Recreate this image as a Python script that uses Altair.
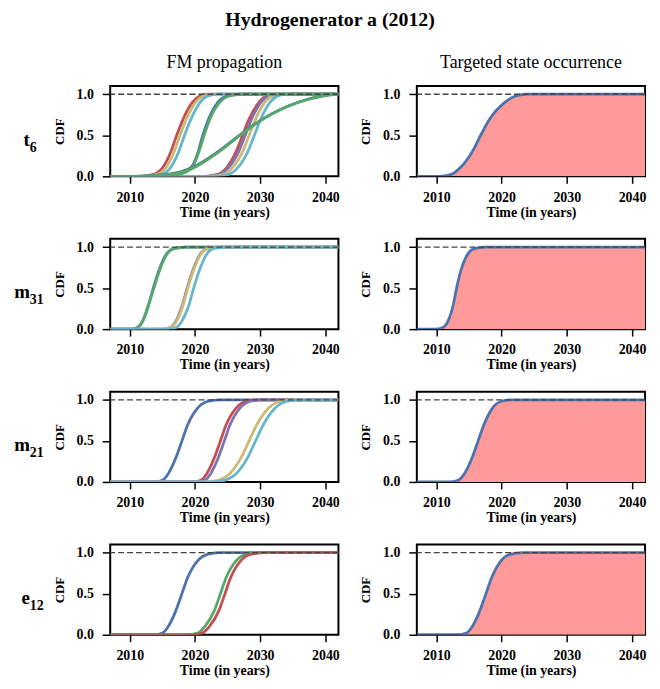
import altair as alt
import pandas as pd

SERIF = "Liberation Serif"

LEVELS = [0.0, 0.02, 0.1, 0.3, 0.5, 0.7, 0.9, 0.98, 1.0]
X_START, X_END = 2007, 2042
X_TICKS = [2010, 2020, 2030, 2040]
Y_TICKS = [0.0, 0.5, 1.0]

BLUE, GREEN, RED, PURPLE, YELLOW, CYAN = "#4C72B0", "#55A868", "#C44E52", "#8172B2", "#CCB974", "#64B5CD"
FILL = "#FF9A9A"

ROW_MAIN = ["t", "m", "m", "e"]
ROW_SUB = ["6", "31", "21", "12"]
COL_TITLES = ["FM propagation", "Targeted state occurrence"]
MAIN_TITLE = "Hydrogenerator a (2012)"

# ---- FM propagation curves (years at which the CDF reaches LEVELS) ----
T6_FM_COLORS = [RED, PURPLE, YELLOW, CYAN, RED, YELLOW, CYAN, BLUE, GREEN, BLUE, GREEN]
T6_FM_YEARS = [
    [2021.5, 2023.3, 2024.8, 2026.3, 2027.3, 2028.3, 2029.8, 2031.0, 2032.5],
    [2021.7, 2023.6, 2025.1, 2026.7, 2027.7, 2028.7, 2030.1, 2031.3, 2032.7],
    [2022.2, 2024.2, 2025.7, 2027.3, 2028.3, 2029.3, 2030.7, 2031.9, 2033.3],
    [2023.0, 2025.0, 2026.5, 2028.1, 2029.1, 2030.1, 2031.5, 2032.7, 2034.0],
    [2011.5, 2013.5, 2015.0, 2016.3, 2017.2, 2018.2, 2019.6, 2020.8, 2022.0],
    [2012.0, 2014.0, 2015.5, 2016.8, 2017.7, 2018.7, 2020.1, 2021.3, 2022.5],
    [2012.5, 2014.7, 2016.2, 2017.5, 2018.4, 2019.4, 2020.8, 2022.0, 2023.5],
    [2013.0, 2016.5, 2019.3, 2020.5, 2021.2, 2022.1, 2023.5, 2025.0, 2027.0],
    [2014.0, 2017.2, 2019.5, 2020.6, 2021.4, 2022.3, 2023.8, 2025.3, 2027.5],
    [2010.5, 2015.5, 2019.4, 2023.5, 2026.8, 2030.4, 2035.7, 2039.5, 2042.0],
    [2011.0, 2016.0, 2019.7, 2023.7, 2026.9, 2030.5, 2035.8, 2039.8, 2042.0],
]

M31_FM_COLORS = [BLUE, GREEN, PURPLE, YELLOW, CYAN]
M31_FM_YEARS = [
    [2010.3, 2011.2, 2012.0, 2012.9, 2013.6, 2014.4, 2015.5, 2016.7, 2018.5],
    [2010.3, 2011.2, 2012.0, 2012.9, 2013.7, 2014.5, 2015.6, 2016.8, 2018.5],
    [2014.9, 2016.2, 2017.1, 2018.1, 2018.8, 2019.6, 2020.7, 2021.9, 2023.8],
    [2015.0, 2016.3, 2017.2, 2018.2, 2018.9, 2019.7, 2020.8, 2022.0, 2024.0],
    [2015.8, 2017.1, 2018.0, 2019.1, 2019.8, 2020.6, 2021.7, 2022.8, 2024.8],
]

M21_FM_COLORS = [BLUE, RED, PURPLE, YELLOW, CYAN]
M21_FM_YEARS = [
    [2013.8, 2015.0, 2015.9, 2017.1, 2018.0, 2018.9, 2020.4, 2021.9, 2023.7],
    [2019.7, 2020.9, 2021.8, 2023.0, 2023.9, 2024.8, 2026.3, 2027.8, 2029.6],
    [2020.3, 2021.5, 2022.4, 2023.6, 2024.5, 2025.4, 2026.9, 2028.4, 2030.2],
    [2021.5, 2023.5, 2025.3, 2027.1, 2028.3, 2029.5, 2031.3, 2033.0, 2035.0],
    [2022.5, 2024.5, 2026.3, 2028.1, 2029.3, 2030.5, 2032.3, 2034.0, 2036.0],
]

E12_FM_COLORS = [BLUE, GREEN, RED]
E12_FM_YEARS = [
    [2013.8, 2015.0, 2015.9, 2017.1, 2018.0, 2018.9, 2020.4, 2021.9, 2023.7],
    [2018.8, 2020.4, 2021.5, 2023.0, 2023.9, 2024.8, 2026.3, 2027.8, 2030.0],
    [2019.5, 2021.1, 2022.2, 2023.7, 2024.6, 2025.5, 2027.0, 2028.5, 2030.7],
]

# ---- Targeted state occurrence (one curve per row) ----
TARGET_YEARS = [
    [2010.5, 2012.2, 2013.6, 2015.5, 2016.8, 2018.2, 2020.5, 2022.2, 2024.0],
    [2009.8, 2011.0, 2011.8, 2012.6, 2013.1, 2013.7, 2014.7, 2015.8, 2017.5],
    [2012.0, 2013.3, 2014.3, 2015.5, 2016.4, 2017.3, 2018.6, 2019.9, 2021.8],
    [2013.3, 2014.6, 2015.5, 2016.7, 2017.6, 2018.5, 2019.9, 2021.3, 2023.2],
]

FM_ROWS = [
    (T6_FM_COLORS, T6_FM_YEARS),
    (M31_FM_COLORS, M31_FM_YEARS),
    (M21_FM_COLORS, M21_FM_YEARS),
    (E12_FM_COLORS, E12_FM_YEARS),
]

W, H = 230, 91


def curve_frame(years):
    xs, ys = [], []
    if years[0] > X_START:
        xs.append(X_START)
        ys.append(0.0)
    xs += list(years)
    ys += LEVELS
    if years[-1] < X_END:
        xs.append(X_END)
        ys.append(1.0)
    return pd.DataFrame({"year": xs, "cdf": ys})


X_ENC = alt.X(
    "year:Q",
    scale=alt.Scale(domain=[X_START, X_END], nice=False, zero=False),
    axis=alt.Axis(values=X_TICKS, format="d", title="Time (in years)"),
)
Y_ENC = alt.Y(
    "cdf:Q",
    scale=alt.Scale(domain=[0, 1.1], nice=False),
    axis=alt.Axis(values=Y_TICKS, format=".1f", title="CDF"),
)

ONE = pd.DataFrame({"v": [1.0]})


def dashed_rule():
    return alt.Chart(ONE).mark_rule(
        strokeDash=[6, 3], color="#444444", strokeWidth=1.3
    ).encode(y=alt.Y("v:Q", scale=alt.Scale(domain=[0, 1.1], nice=False)))


def row_label(i):
    main = alt.Chart(ONE).mark_text(
        font=SERIF, fontSize=19, fontWeight="bold", align="right",
        baseline="alphabetic", color="black",
    ).encode(x=alt.value(-81), y=alt.value(60), text=alt.value(ROW_MAIN[i]))
    sub = alt.Chart(ONE).mark_text(
        font=SERIF, fontSize=14, fontWeight="bold", align="left",
        baseline="alphabetic", color="black",
    ).encode(x=alt.value(-81), y=alt.value(66), text=alt.value(ROW_SUB[i]))
    return [main, sub]


def fm_panel(i):
    colors, curves = FM_ROWS[i]
    layers = []
    for c, yrs in zip(colors, curves):
        layers.append(
            alt.Chart(curve_frame(yrs)).mark_line(
                color=c, strokeWidth=2.8, interpolate="monotone", clip=True
            ).encode(x=X_ENC, y=Y_ENC)
        )
    layers.append(dashed_rule())
    layers += row_label(i)
    ch = alt.layer(*layers).properties(width=W, height=H)
    if i == 0:
        ch = ch.properties(title=alt.TitleParams(
            COL_TITLES[0], font=SERIF, fontSize=18, fontWeight="normal",
            color="black", offset=14))
    return ch


def target_panel(i):
    df = curve_frame(TARGET_YEARS[i])
    area = alt.Chart(df).mark_area(
        color=FILL, opacity=1, interpolate="monotone", clip=True
    ).encode(x=X_ENC, y=Y_ENC)
    line = alt.Chart(df).mark_line(
        color=BLUE, strokeWidth=2.8, interpolate="monotone", clip=True
    ).encode(x=X_ENC, y=Y_ENC)
    ch = alt.layer(area, line, dashed_rule()).properties(width=W, height=H)
    if i == 0:
        ch = ch.properties(title=alt.TitleParams(
            COL_TITLES[1], font=SERIF, fontSize=18, fontWeight="normal",
            color="black", offset=14))
    return ch


rows = [
    alt.hconcat(fm_panel(i), target_panel(i), spacing=79, bounds="flush")
    for i in range(4)
]

chart = alt.vconcat(
    *rows, spacing=18,
    padding={"left": 5, "right": 5, "top": 0, "bottom": 5},
    title=alt.TitleParams(MAIN_TITLE, font=SERIF, fontSize=20, fontWeight="bold",
                          color="black", anchor="middle", offset=23),
).configure_view(
    stroke="black", strokeWidth=2
).configure_axis(
    domain=False, grid=False, ticks=True, tickColor="black", tickWidth=1.5,
    tickSize=8, labelFont=SERIF, labelFontSize=14, labelFontWeight="bold",
    labelColor="black", titleFont=SERIF,
    titleFontWeight="bold", titleColor="black",
).configure_axisX(
    tickSize=7, labelPadding=7, titlePadding=1, titleFontSize=14
).configure_axisY(
    labelPadding=9, titlePadding=10, titleFontSize=13
)

chart.save("out.html", embed_options={"renderer": "svg", "actions": False})
